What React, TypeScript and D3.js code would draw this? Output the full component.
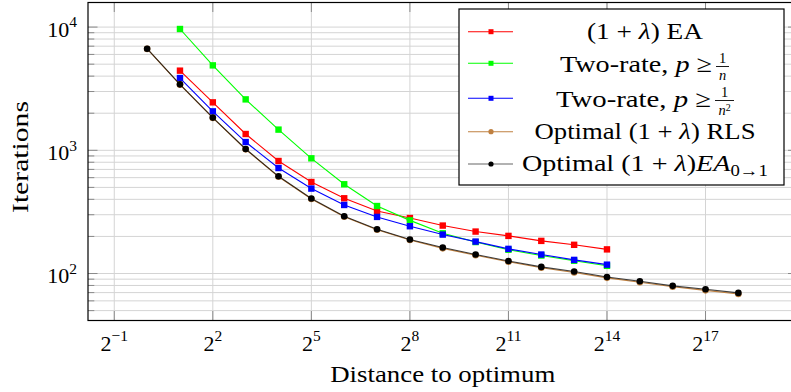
import React from 'react';
import * as d3 from 'd3';

// distance to optimum (x) — powers of two
const distances = [1, 2, 4, 8, 16, 32, 64, 128, 256, 512, 1024, 2048, 4096, 8192, 16384, 32768, 65536, 131072, 262144];
const shortDistances = [2, 4, 8, 16, 32, 64, 128, 256, 512, 1024, 2048, 4096, 8192, 16384];

// iterations per algorithm
const eaIterations = [4430, 2450, 1356, 819, 553, 408, 322, 282, 245, 219, 202, 184, 171, 157];
const twoRateN = [9650, 4890, 2590, 1472, 861, 530, 353, 270, 212, 180, 156, 140, 127, 115.5];
const twoRateN2 = [3860, 2070, 1167, 718, 489, 360, 288, 242, 207, 181.6, 158.5, 142.6, 129, 118];
const optimalRls = [6650, 3410, 1830, 1018, 610, 402, 289, 226.5, 187, 160, 140.5, 124.5, 111.5, 102, 92.2, 85, 78, 73, 68.2];
const optimalEa01 = [6680, 3430, 1842, 1025, 615, 406, 292, 229, 189, 162.5, 142.6, 126.5, 113.2, 103.8, 93.8, 86.6, 79.4, 74.6, 69.6];

const xTickExponents = [-1, 2, 5, 8, 11, 14, 17];
const yTickExponents = [2, 3, 4];

const series = [
  { key: 'ea', xs: shortDistances, ys: eaIterations, color: '#ff0000', line: '#ff0000', marker: 'square' },
  { key: 'n', xs: shortDistances, ys: twoRateN, color: '#00ff00', line: '#00ff00', marker: 'square' },
  { key: 'n2', xs: shortDistances, ys: twoRateN2, color: '#0000ff', line: '#0000ff', marker: 'square' },
  { key: 'rls', xs: distances, ys: optimalRls, color: '#bf8040', line: '#bf8040', marker: 'circle' },
  { key: 'ea01', xs: distances, ys: optimalEa01, color: '#000000', line: 'rgba(0,0,0,0.75)', marker: 'circle' },
];

const FONT = "'Liberation Serif', 'Times New Roman', serif";

const left = 88, right = 797.5, top = 2.5, bottom = 320.5;

// pgfplots-style 10% enlargement of the (log) data range
const enlarge = (vals: number[], log: (v: number) => number) => {
  const [a, b] = d3.extent(vals.map(log)) as [number, number];
  const p = (b - a) * 0.1;
  return [a - p, b + p];
};

const [lx0, lx1] = enlarge(distances, Math.log2);
const x = d3.scaleLog().base(2).domain([2 ** lx0, 2 ** lx1]).range([left, right]);
const [ly0, ly1] = enlarge(series.flatMap(s => s.ys), Math.log10);
const y = d3.scaleLog().domain([10 ** ly0, 10 ** ly1]).range([bottom, top]);

const lineGen = d3.line<[number, number]>().x(d => x(d[0])).y(d => y(d[1]));

const Marker = ({ type, cx, cy, color, s }: any) =>
  type === 'square'
    ? <rect x={cx - s / 2} y={cy - s / 2} width={s} height={s} fill={color} />
    : <circle cx={cx} cy={cy} r={s / 2} fill={color} />;

export default function App() {
  const minorY: number[] = [];
  for (let d = 1; d <= 4; d++) {
    for (let m = 2; m <= 9; m++) {
      const v = m * 10 ** d;
      if (v > 10 ** ly0 && v < 10 ** ly1) minorY.push(v);
    }
  }
  const majorY = yTickExponents.map(e => 10 ** e);
  const majorX = xTickExponents.map(e => 2 ** e);

  const legendRows = [
    { cy: 31.7, base: 38.5 },
    { cy: 63.3, base: 71.5 },
    { cy: 98.3, base: 106.5 },
    { cy: 131.7, base: 138.5 },
    { cy: 164, base: 170.5 },
  ];
  const textCx = 645;

  return (
    <svg width={791} height={392} style={{ position: 'absolute', left: 0, top: 0, background: '#fff' }} fontFamily={FONT}>
      <rect x={0} y={0} width={791} height={392} fill="#fff" />
      {/* grid */}
      <g stroke="#d4d4d4" strokeWidth={1}>
        {minorY.map(v => <line key={'my' + v} x1={left} x2={right} y1={y(v)} y2={y(v)} />)}
        {majorY.map(v => <line key={'My' + v} x1={left} x2={right} y1={y(v)} y2={y(v)} />)}
        {majorX.map(v => <line key={'Mx' + v} x1={x(v)} x2={x(v)} y1={top} y2={bottom} />)}
      </g>
      {/* ticks */}
      <g stroke="#8a8a8a" strokeWidth={1}>
        {minorY.map(v => (
          <g key={'tm' + v}>
            <line x1={left} x2={left + 6.3} y1={y(v)} y2={y(v)} />
            <line x1={right} x2={right - 6.3} y1={y(v)} y2={y(v)} />
          </g>
        ))}
        {majorY.map(v => (
          <g key={'tM' + v}>
            <line x1={left} x2={left + 9.5} y1={y(v)} y2={y(v)} />
            <line x1={right} x2={right - 9.5} y1={y(v)} y2={y(v)} />
          </g>
        ))}
        {majorX.map(v => (
          <g key={'tx' + v}>
            <line x1={x(v)} x2={x(v)} y1={bottom} y2={bottom - 9.5} />
            <line x1={x(v)} x2={x(v)} y1={top} y2={top + 9.5} />
          </g>
        ))}
      </g>
      {/* series */}
      {series.map(s => {
        const pts = s.xs.map((d, i) => [d, s.ys[i]] as [number, number]);
        return (
          <g key={s.key}>
            <path d={lineGen(pts) || ''} fill="none" stroke={s.line} strokeWidth={1.1} />
            {pts.map((p, i) => (
              <Marker key={i} type={s.marker} cx={x(p[0])} cy={y(p[1])} color={s.color} s={s.marker === 'square' ? 6.4 : 6.6} />
            ))}
          </g>
        );
      })}
      {/* frame */}
      <rect x={left} y={top} width={right - left} height={bottom - top} fill="none" stroke="#000" strokeWidth={1.2} />
      {/* tick labels */}
      {xTickExponents.map(e => (
        <text key={'lx' + e} x={x(2 ** e)} y={350.7} textAnchor="middle" fontSize={22}>
          2<tspan dy={-9.5} fontSize={15.5}>{e < 0 ? '\u2212' + Math.abs(e) : String(e)}</tspan>
        </text>
      ))}
      {yTickExponents.map(e => (
        <text key={'ly' + e} x={77} y={y(10 ** e) + 9.8} textAnchor="end" fontSize={22}>
          10<tspan dy={-9.5} fontSize={15.5}>{e}</tspan>
        </text>
      ))}
      {/* axis labels */}
      <text x={(left + right) / 2} y={381.7} textAnchor="middle" fontSize={24}
        textLength={225} lengthAdjust="spacingAndGlyphs">Distance to optimum</text>
      <text transform={`translate(28,157) rotate(-90)`} textAnchor="middle" fontSize={24}
        textLength={112} lengthAdjust="spacingAndGlyphs">Iterations</text>
      {/* legend */}
      <rect x={459} y={9} width={325} height={176} fill="#fff" stroke="#000" strokeWidth={1.2} />
      {series.map((s, i) => (
        <g key={'lg' + s.key}>
          <line x1={468} x2={513} y1={legendRows[i].cy} y2={legendRows[i].cy} stroke={s.key === 'ea01' ? '#666' : s.line} strokeWidth={1.1} />
          <Marker type={s.marker} cx={491} cy={legendRows[i].cy} color={s.color} s={s.marker === 'square' ? 5 : 5.2} />
        </g>
      ))}
      <g fontSize={24}>
        <text x={textCx} y={legendRows[0].base} textAnchor="middle" textLength={116} lengthAdjust="spacingAndGlyphs">
          (1 + <tspan fontStyle="italic">λ</tspan>) EA
        </text>
        <text x={712} y={legendRows[1].base} textAnchor="end" textLength={152} lengthAdjust="spacingAndGlyphs">
          Two-rate, <tspan fontStyle="italic">p</tspan> ≥
        </text>
        <text x={722.5} y={legendRows[1].base - 8.5} textAnchor="middle" fontSize={14.5}>1</text>
        <line x1={716} x2={729} y1={legendRows[1].base - 5} y2={legendRows[1].base - 5} stroke="#000" strokeWidth={0.9} />
        <text x={722.5} y={legendRows[1].base + 8.5} textAnchor="middle" fontSize={14.5} fontStyle="italic">n</text>
        <text x={711} y={legendRows[2].base} textAnchor="end" textLength={155} lengthAdjust="spacingAndGlyphs">
          Two-rate, <tspan fontStyle="italic">p</tspan> ≥
        </text>
        <text x={724.5} y={legendRows[2].base - 9.5} textAnchor="middle" fontSize={14.5}>1</text>
        <line x1={715} x2={734} y1={legendRows[2].base - 6} y2={legendRows[2].base - 6} stroke="#000" strokeWidth={0.9} />
        <text x={724.5} y={legendRows[2].base + 8.5} textAnchor="middle" fontSize={14.5}>
          <tspan fontStyle="italic">n</tspan><tspan dy={-4.5} fontSize={10}>2</tspan>
        </text>
        <text x={textCx} y={legendRows[3].base} textAnchor="middle" textLength={221} lengthAdjust="spacingAndGlyphs">
          Optimal (1 + <tspan fontStyle="italic">λ</tspan>) RLS
        </text>
        <text x={textCx} y={legendRows[4].base} textAnchor="middle" textLength={246} lengthAdjust="spacingAndGlyphs">
          Optimal (1 + <tspan fontStyle="italic">λ</tspan>)<tspan fontStyle="italic">EA</tspan>
          <tspan dy={5} fontSize={16}>0→1</tspan>
        </text>
      </g>
    </svg>
  );
}
